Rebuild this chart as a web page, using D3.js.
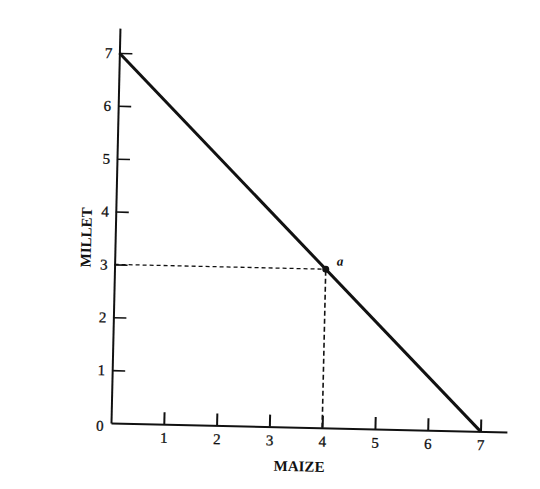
<!DOCTYPE html>
<html><head><meta charset="utf-8">
<script src="https://cdn.jsdelivr.net/npm/d3@7"></script>
<style>
body{margin:0;background:#fff;}
svg{display:block;}
.tick text{font-family:"Liberation Serif","Times New Roman",serif;font-size:15px;fill:#111;stroke:#111;stroke-width:0.3px;}
</style></head>
<body>
<script>
const maizeTicks = [1,2,3,4,5,6,7];
const milletTicks = [1,2,3,4,5,6,7];
const frontier = [{maize:0, millet:7},{maize:7, millet:0}];
const pointA = {maize:4, millet:3, label:"a"};
const xTitle = "MAIZE", yTitle = "MILLET";

const W = 540, H = 489;
const svg = d3.select("body").append("svg").attr("width",W).attr("height",H);
const g = svg.append("g").attr("transform","translate(111,423) rotate(1.3)");

const x = d3.scaleLinear().domain([0,7.5]).range([0,396]);
const y = d3.scaleLinear().domain([0,7.47]).range([0,-395]);

// x axis
const xAx = g.append("g").call(d3.axisBottom(x).tickValues(maizeTicks).tickSizeInner(-12).tickSizeOuter(0).tickPadding(6).tickFormat(d3.format("d")));
xAx.select(".domain").attr("stroke","#111").attr("stroke-width",2);
xAx.selectAll(".tick line").attr("stroke","#111").attr("stroke-width",2);
xAx.selectAll(".tick text").attr("dy","0.85em");

// y axis
const yAx = g.append("g").call(d3.axisLeft(y).tickValues(milletTicks).tickSizeInner(-13).tickSizeOuter(0).tickPadding(7).tickFormat(d3.format("d")));
yAx.select(".domain").attr("stroke","#111").attr("stroke-width",2);
yAx.selectAll(".tick line").attr("stroke","#111").attr("stroke-width",1.6);

// origin label
g.append("text").attr("x",-11).attr("y",8).attr("text-anchor","middle")
 .attr("font-family","Liberation Serif, serif").attr("font-size",15).attr("fill","#111")
 .attr("stroke","#111").attr("stroke-width",0.3).text("0");

// dashed guides
g.append("line").attr("x1",x(0)).attr("y1",y(pointA.millet)).attr("x2",x(pointA.maize)).attr("y2",y(pointA.millet))
 .attr("stroke","#111").attr("stroke-width",1.3).attr("stroke-dasharray","4,3");
g.append("line").attr("x1",x(pointA.maize)).attr("y1",y(0)).attr("x2",x(pointA.maize)).attr("y2",y(pointA.millet))
 .attr("stroke","#111").attr("stroke-width",1.6).attr("stroke-dasharray","5,3");

// frontier line
g.append("path").datum(frontier)
 .attr("d", d3.line().x(d=>x(d.maize)).y(d=>y(d.millet)))
 .attr("stroke","#111").attr("stroke-width",3).attr("fill","none");

// point a
g.append("circle").attr("cx",x(pointA.maize)).attr("cy",y(pointA.millet)).attr("r",3.5).attr("fill","#111");
g.append("text").attr("x",x(pointA.maize)+11).attr("y",y(pointA.millet)-4)
 .attr("font-family","Liberation Serif, serif").attr("font-style","italic").attr("font-weight","bold").attr("font-size",13).attr("fill","#111").text(pointA.label);

// axis titles
g.append("text").attr("x",x(3.58)).attr("y",44).attr("text-anchor","middle")
 .attr("font-family","Liberation Serif, serif").attr("font-weight","bold").attr("font-size",15).attr("fill","#111").text(xTitle);
g.append("text").attr("transform",`translate(-24,${y(3.5)}) rotate(-90)`).attr("text-anchor","middle")
 .attr("font-family","Liberation Serif, serif").attr("font-weight","bold").attr("font-size",15).attr("fill","#111").text(yTitle);
</script>
</body></html>
